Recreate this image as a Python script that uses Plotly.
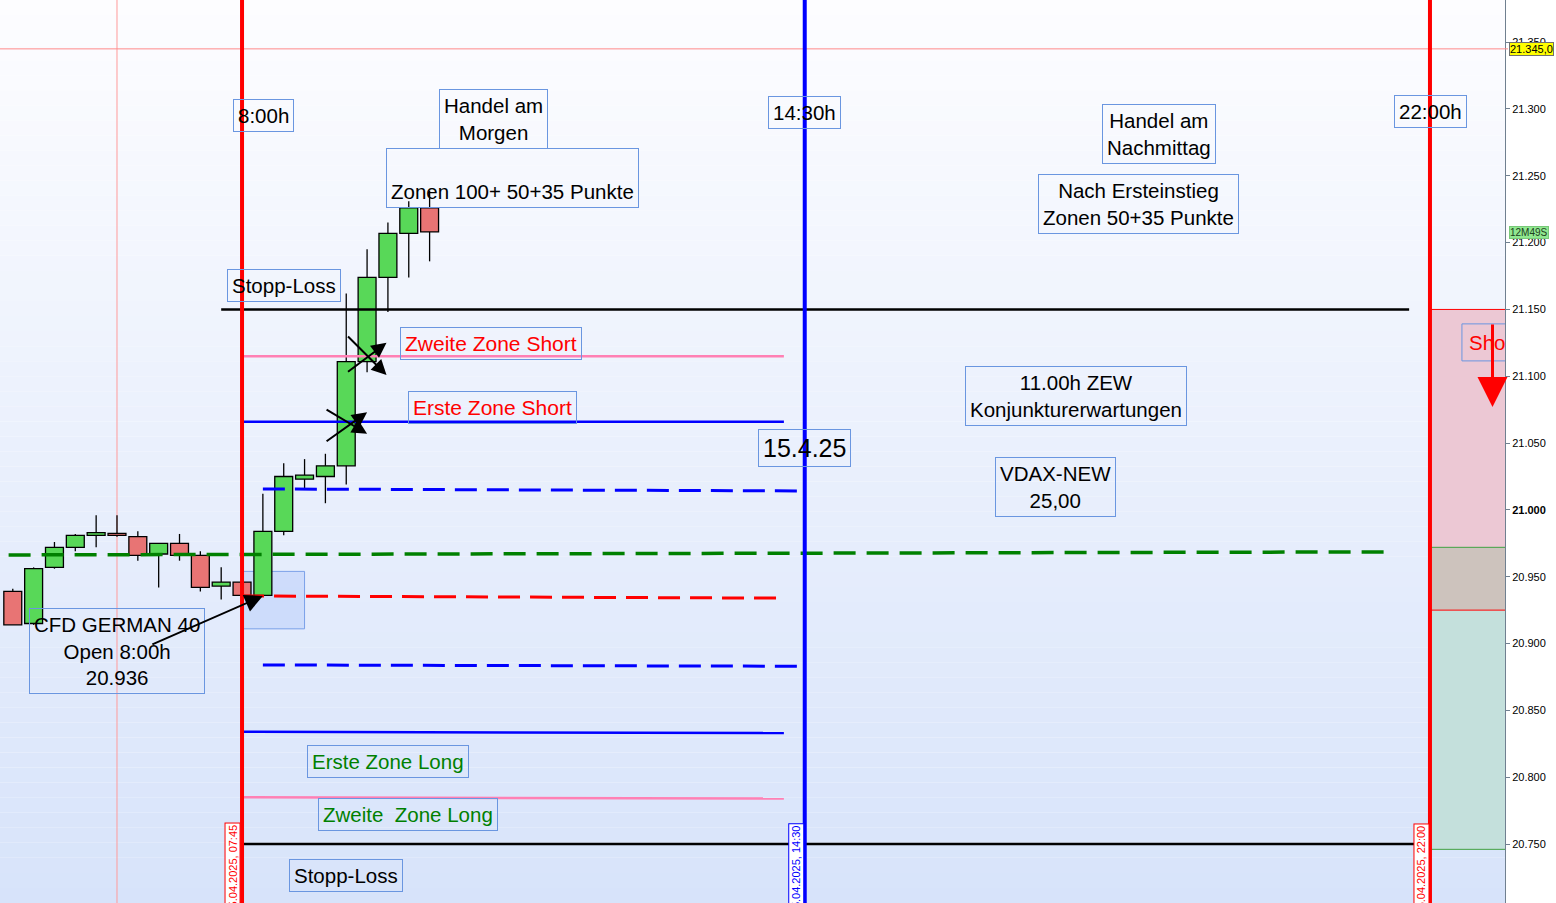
import plotly.graph_objects as go
import pandas as pd

# ---------------- data ----------------
candle_time = ["2025-04-15 05:00", "2025-04-15 05:15", "2025-04-15 05:30", "2025-04-15 05:45",
               "2025-04-15 06:00", "2025-04-15 06:15", "2025-04-15 06:30", "2025-04-15 06:45",
               "2025-04-15 07:00", "2025-04-15 07:15", "2025-04-15 07:30", "2025-04-15 07:45",
               "2025-04-15 08:00", "2025-04-15 08:15", "2025-04-15 08:30", "2025-04-15 08:45",
               "2025-04-15 09:00", "2025-04-15 09:15", "2025-04-15 09:30", "2025-04-15 09:45",
               "2025-04-15 10:00"]
candle_open = [20939, 20915, 20957, 20972, 20981, 20982, 20980, 20967, 20975, 20966, 20943,
               20946, 20936, 20984, 21023, 21025, 21033, 21111, 21174, 21207, 21226]
candle_high = [20941, 20957, 20976, 20982, 20996, 20996, 20984, 20975, 20982, 20969, 20957,
               20946, 21012, 21035, 21038, 21042, 21162, 21195, 21215, 21231, 21239]
candle_low = [20914, 20914, 20956, 20969, 20972, 20980, 20962, 20942, 20962, 20939, 20933,
              20936, 20936, 20981, 21015, 21005, 21019, 21103, 21148, 21174, 21186]
candle_close = [20914, 20956, 20972, 20981, 20983, 20981, 20966, 20975, 20966, 20942, 20946,
                20936, 20984, 21025, 21026, 21033, 21111, 21174, 21207, 21226, 21208]

# horizontal levels: (start time, end time, start price, end price)
level_names = ["stop_top", "stop_bottom", "zone2_short", "zone1_short", "zone1_long", "zone2_long",
               "dash_upper", "dash_lower", "open_dash", "green_dash"]
level_start = ["2025-04-15 07:30", "2025-04-15 07:45", "2025-04-15 07:45", "2025-04-15 07:45",
               "2025-04-15 07:45", "2025-04-15 07:45", "2025-04-15 08:00", "2025-04-15 08:00",
               "2025-04-15 07:45", "2025-04-15 04:57"]
level_end = ["2025-04-15 21:45", "2025-04-15 22:00", "2025-04-15 14:15", "2025-04-15 14:15",
             "2025-04-15 14:15", "2025-04-15 14:15", "2025-04-15 14:25", "2025-04-15 14:25",
             "2025-04-15 14:10", "2025-04-15 21:30"]
level_v0 = [21150, 20750, 21115, 21066, 20834, 20785, 21015.7, 20884, 20935.6, 20966.3]
level_v1 = [21150, 20750, 21115, 21066, 20833, 20784, 21014.2, 20883, 20934, 20968.6]

vline_time = ["2025-04-15 07:45", "2025-04-15 14:30", "2025-04-15 22:00"]
vline_label = ["15.04.2025, 07:45", "15.04.2025, 14:30", "15.04.2025, 22:00"]

zone_bounds = [21150, 20972, 20925, 20746]   # right-hand zone boxes
open_box = ["2025-04-15 07:46", "2025-04-15 08:30", 20954, 20911]

cross_time = "2025-04-15 06:15"
cross_price = 21345

y_ticks = [20750, 20800, 20850, 20900, 20950, 21000, 21050, 21100, 21150, 21200, 21250, 21300, 21350]
y_tick_text = ["20.750", "20.800", "20.850", "20.900", "20.950", "<b>21.000</b>", "21.050",
               "21.100", "21.150", "21.200", "21.250", "21.300", "21.350"]

# ---------------- figure ----------------
W, H = 1556, 903
PW = 1505  # plot width in px


def px(x):
    return x / PW


def py(y):
    return 1 - y / H


fig = go.Figure()

# wicks (only outside the bodies)
wx, wy = [], []
for t, o, h, l, c in zip(candle_time, candle_open, candle_high, candle_low, candle_close):
    top, bot = max(o, c), min(o, c)
    wx += [t, t, None, t, t, None]
    wy += [h, top, None, bot, l, None]
fig.add_trace(go.Scatter(x=wx, y=wy, mode="lines", line=dict(color="black", width=1.3),
                         hoverinfo="skip", showlegend=False))

# bodies
body_base = [min(o, c) for o, c in zip(candle_open, candle_close)]
body_h = [max(abs(c - o), 1.5) for o, c in zip(candle_open, candle_close)]
body_col = ["#58d858" if c >= o else "#e87474" for o, c in zip(candle_open, candle_close)]
bar_w = pd.Timedelta(minutes=12.9).total_seconds() * 1000
fig.add_trace(go.Bar(x=candle_time, y=body_h, base=body_base, width=bar_w,
                     marker=dict(color=body_col, line=dict(color="black", width=1.3)),
                     hoverinfo="skip", showlegend=False))

styles = {
    "stop_top": dict(color="black", width=2.5),
    "stop_bottom": dict(color="black", width=2.5),
    "zone2_short": dict(color="#ff80b4", width=2.5),
    "zone1_short": dict(color="#0000ff", width=2.5),
    "zone1_long": dict(color="#0000ff", width=2.5),
    "zone2_long": dict(color="#ff80b4", width=2.5),
    "dash_upper": dict(color="#0000ff", width=3, dash="22px,10px"),
    "dash_lower": dict(color="#0000ff", width=3, dash="22px,10px"),
    "open_dash": dict(color="#ff0000", width=3, dash="22px,10px"),
    "green_dash": dict(color="#008000", width=3.5, dash="22px,11px"),
}
for n, s, e, v0, v1 in zip(level_names, level_start, level_end, level_v0, level_v1):
    fig.add_trace(go.Scatter(x=[s, e], y=[v0, v1], mode="lines", line=styles[n],
                             hoverinfo="skip", showlegend=False))

shapes = []
# background gradient
N = 60
for i in range(N):
    t = (i + 0.5) / N
    r = round(253 + (215 - 253) * t)
    g = round(253 + (227 - 253) * t)
    b = round(255 + (250 - 255) * t)
    shapes.append(dict(type="rect", xref="paper", yref="paper", x0=0, x1=1,
                       y0=1 - (i + 1) / N, y1=1 - i / N, fillcolor=f"rgb({r},{g},{b})",
                       line=dict(width=0), layer="below"))
# open box
shapes.append(dict(type="rect", xref="x", yref="y", x0=open_box[0], x1=open_box[1],
                   y0=open_box[2], y1=open_box[3], fillcolor="rgba(190,210,250,0.6)",
                   line=dict(color="#7aa0e8", width=1), layer="below"))
# right zones
zone_cols = ["#ecc8d4", "#cdc3bd", "#c4e0dc"]
for i in range(3):
    shapes.append(dict(type="rect", xref="x", yref="y", x0=vline_time[2], x1="2025-04-15 23:30",
                       y0=zone_bounds[i + 1], y1=zone_bounds[i], fillcolor=zone_cols[i],
                       line=dict(width=0), layer="below"))
zone_line_cols = ["#ff0000", "#40a040", "#ff0000", "#40a040"]
for v, c in zip(zone_bounds, zone_line_cols):
    shapes.append(dict(type="line", xref="x", yref="y", x0=vline_time[2], x1="2025-04-15 23:30",
                       y0=v, y1=v, line=dict(color=c, width=1), layer="below"))
# crosshair
shapes.append(dict(type="line", xref="paper", yref="y", x0=0, x1=1.002, y0=cross_price, y1=cross_price,
                   line=dict(color="#ff8a8a", width=1), layer="above"))
shapes.append(dict(type="line", xref="x", yref="paper", x0=cross_time, x1=cross_time, y0=0, y1=1,
                   line=dict(color="#ff9a9a", width=1), layer="below"))
# vertical session lines
for t, c in zip(vline_time, ["#ff0000", "#0000ff", "#ff0000"]):
    shapes.append(dict(type="line", xref="x", yref="paper", x0=t, x1=t, y0=0, y1=1,
                       line=dict(color=c, width=4), layer="above"))
# "Short" box (clipped at plot edge)
shapes.append(dict(type="rect", xref="x", yref="y", x0="2025-04-15 22:23", x1="2025-04-15 23:30",
                   y0=21111.5, y1=21139.2, line=dict(color="#6a96e0", width=1),
                   fillcolor="rgba(0,0,0,0)", layer="above"))

ann = []
FONT = "Liberation Sans, Arial, sans-serif"
BOX = "#6a96e0"


def box(text, cx, cy, color="black", size=20.5, pad=4):
    ann.append(dict(text=text, x=px(cx), y=py(cy), xref="paper", yref="paper", showarrow=False,
                    xanchor="center", yanchor="middle", font=dict(family=FONT, size=size, color=color),
                    bordercolor=BOX, borderwidth=1, borderpad=pad, align="center"))


box("8:00h", 263, 115)
box("Handel am<br>Morgen", 493, 119)
box(" <br>Zonen 100+ 50+35 Punkte", 512, 178)
box("14:30h", 805, 113)
box("Handel am<br>Nachmittag", 1159, 134)
box("Nach Ersteinstieg<br>Zonen 50+35 Punkte", 1138, 204)
box("22:00h", 1430, 111)
box("Stopp-Loss", 284, 286)
box("Zweite Zone Short", 491, 343, "#ff0000", size=21)
box("Erste Zone Short", 492, 407, "#ff0000", size=21)
box("15.4.25", 805, 448, size=25)
box("11.00h ZEW<br>Konjunkturerwartungen", 1076, 396)
box("VDAX-NEW<br>25,00", 1055, 487)
box("CFD GERMAN 40<br>Open 8:00h<br>20.936", 117, 651)
box("Erste Zone Long", 388, 761, "#008000")
box("Zweite\u00a0 Zone Long", 408, 814, "#008000")
box("Stopp-Loss", 346, 875)

# "Short" text cut off
ann.append(dict(text="Sho", x=px(1467), y=py(342), xref="paper", yref="paper", showarrow=False,
                xanchor="left", yanchor="middle", font=dict(family=FONT, size=20.5, color="#ff0000")))


# arrows
def arrow(t, v, ax, ay, color="black", width=2, size=1.5):
    ann.append(dict(x=t, y=v, xref="x", yref="y", ax=ax, ay=ay, text="", showarrow=True,
                    arrowhead=2, arrowsize=size, arrowwidth=width, arrowcolor=color))


arrow("2025-04-15 08:00", 20935.6, -112, 49, size=1.8)
arrow("2025-04-15 09:15", 21057, -42, -25)
arrow("2025-04-15 09:15", 21073, -42, 30)
arrow("2025-04-15 09:29", 21101, -40, -40)
arrow("2025-04-15 09:29", 21125, -40, 30)
arrow("2025-04-15 22:45", 21077, 0, -84, color="#ff0000", width=3, size=2)

# vertical date labels at bottom
for t, lab, c, dx in zip(vline_time, vline_label, ["#ff0000", "#0000ff", "#ff0000"], [-10, -9, -9]):
    ann.append(dict(text=lab, x=t, y=py(823), xref="x", yref="paper", xshift=dx, showarrow=False,
                    textangle=-90, xanchor="center", yanchor="top",
                    font=dict(family=FONT, size=11, color=c), bgcolor="white",
                    bordercolor=c, borderwidth=1, borderpad=1))

# right axis labels
ann.append(dict(text="21.345,0", x=1.0025, y=cross_price, xref="paper", yref="y", showarrow=False,
                xanchor="left", yanchor="middle", font=dict(family=FONT, size=11, color="black"),
                bgcolor="#ffff00", bordercolor="#707070", borderwidth=1, borderpad=0))
ann.append(dict(text="12M49S", x=1.0025, y=py(233), xref="paper", yref="paper", showarrow=False,
                xanchor="left", yanchor="middle", font=dict(family=FONT, size=10, color="#204020"),
                bgcolor="#90e890", bordercolor="#78c878", borderwidth=1, borderpad=0))

fig.update_layout(
    width=W, height=H, margin=dict(l=0, r=W - PW, t=0, b=0),
    paper_bgcolor="white", plot_bgcolor="white",
    shapes=shapes, annotations=ann, showlegend=False, barmode="overlay",
    xaxis=dict(type="date", range=["2025-04-15 04:50:48", "2025-04-15 22:54:00"], visible=False,
               showgrid=False, fixedrange=True),
    yaxis=dict(side="right", range=[20705.85, 21381.56], tickvals=y_ticks, ticktext=y_tick_text,
               showgrid=False, zeroline=False, showline=True, linecolor="#708090", linewidth=1,
               ticks="outside", ticklen=4, tickcolor="#708090",
               tickfont=dict(family=FONT, size=11, color="black")),
)

fig.write_html("out.html", config={"displayModeBar": False},
               post_script="document.body.style.margin='0px';")
